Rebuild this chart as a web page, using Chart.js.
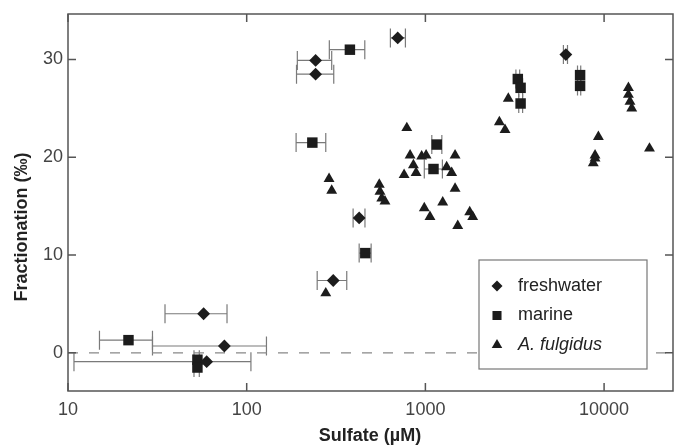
<!DOCTYPE html>
<html>
<head>
<meta charset="utf-8">
<script src="https://cdn.jsdelivr.net/npm/chart.js@4.4.0/dist/chart.umd.min.js"></script>
<style>
  html, body { margin: 0; padding: 0; background: #fff; }
  #wrap { width: 674px; height: 445px; }
</style>
</head>
<body>
<div id="wrap"><canvas id="chart" width="674" height="445"></canvas></div>
<script>
// Sulfate (µM) vs fractionation (‰)
const freshSulfate  = [243, 243, 700, 426, 305, 57.4, 75, 59.7, 6110];
const freshFrac     = [29.9, 28.5, 32.2, 13.8, 7.4, 4.0, 0.7, -0.9, 30.5];
const freshErrLow   = [192, 190, 637, 394, 248, 34.9, 29.7, 10.8, 5920];
const freshErrHigh  = [299, 307, 773, 459, 363, 77.6, 129, 105.6, 6240];

const marineSulfate = [378, 233, 461, 21.8, 53, 53, 3290, 3410, 3410, 7340, 7340, 1157, 1110];
const marineFrac    = [31.0, 21.5, 10.2, 1.3, -0.7, -1.5, 28.0, 27.1, 25.5, 28.4, 27.3, 21.3, 18.8];
const marineErrLow  = [290, 189, 426, 15.0, 50.7, 50.7, 3210, 3330, 3330, 7100, 7100, 1086, 986];
const marineErrHigh = [458, 277, 497, 29.7, 54.3, 54.3, 3370, 3500, 3500, 7400, 7400, 1236, 1245];

const fulgidusSulfate = [289, 299, 277, 787, 821, 953, 1009, 857, 760, 887, 1466, 1315, 1403, 1466,
  1250, 986, 1061, 1770, 1840, 1517, 552, 557, 570, 594, 2910, 2594, 2790, 9290, 8900, 8900, 8700,
  13680, 13680, 13960, 14280, 17950];
const fulgidusFrac = [17.8, 16.6, 6.1, 23.0, 20.2, 20.1, 20.2, 19.2, 18.2, 18.4, 20.2, 19.0, 18.4, 16.8,
  15.4, 14.8, 13.9, 14.4, 13.9, 13.0, 17.2, 16.5, 15.8, 15.5, 26.0, 23.6, 22.8, 22.1, 20.2, 19.9, 19.4,
  27.1, 26.4, 25.7, 25.0, 20.9];

const sulfateTicks = [10, 100, 1000, 10000];
const fracTicks = [0, 10, 20, 30];
const sulfateMin = 10, sulfateMax = 24300;
const fracMin = -3.9, fracMax = 34.65;

const FONT = '"Liberation Sans", Arial, Helvetica, sans-serif';
const INK = '#1c1c1c';

function toPoints(xs, ys, lo, hi) {
    return xs.map((x, i) => ({ x, y: ys[i], xMin: lo ? lo[i] : null, xMax: hi ? hi[i] : null }));
}

// horizontal error bars with caps
const errorBars = {
    id: 'errorBars',
    beforeDatasetsDraw(chart) {
        const { ctx, scales: { x, y } } = chart;
        ctx.save();
        ctx.strokeStyle = '#7a7a7a';
        ctx.lineWidth = 1.2;
        chart.data.datasets.forEach(ds => {
            ds.data.forEach(p => {
                if (p.xMin == null) return;
                const x0 = x.getPixelForValue(p.xMin);
                const x1 = x.getPixelForValue(p.xMax);
                const py = y.getPixelForValue(p.y);
                ctx.beginPath();
                ctx.moveTo(x0, py); ctx.lineTo(x1, py);
                ctx.moveTo(x0, py - 9.5); ctx.lineTo(x0, py + 9.5);
                ctx.moveTo(x1, py - 9.5); ctx.lineTo(x1, py + 9.5);
                ctx.stroke();
            });
        });
        ctx.restore();
    }
};

// legend box inside the plot
const boxLegend = {
    id: 'boxLegend',
    afterDatasetsDraw(chart) {
        const ctx = chart.ctx;
        const x0 = 479, y0 = 260, w = 168, h = 109;
        ctx.save();
        ctx.fillStyle = '#fff';
        ctx.fillRect(x0, y0, w, h);
        ctx.strokeStyle = '#777';
        ctx.lineWidth = 1.2;
        ctx.strokeRect(x0, y0, w, h);
        chart.data.datasets.filter(d => d.label).forEach((d, i) => {
            const cy = y0 + 26 + i * 29.5;
            ctx.fillStyle = INK;
            Chart.helpers.drawPoint(ctx, { pointStyle: d.pointStyle, radius: d.legendRadius, rotation: 0, borderWidth: 0 }, x0 + 18, cy);
            ctx.font = (d.italic ? 'italic ' : '') + '18px ' + FONT;
            ctx.textBaseline = 'middle';
            ctx.textAlign = 'left';
            ctx.fillStyle = '#222';
            ctx.fillText(d.label, x0 + 39, cy);
        });
        ctx.restore();
    }
};

// box round the plot, inward ticks and axis titles
const frame = {
    id: 'frame',
    afterDraw(chart) {
        const { ctx, chartArea: a, scales: { x, y } } = chart;
        ctx.save();
        ctx.strokeStyle = '#555';
        ctx.lineWidth = 1.5;
        ctx.strokeRect(a.left, a.top, a.right - a.left, a.bottom - a.top);
        ctx.beginPath();
        sulfateTicks.forEach(v => {
            const px = x.getPixelForValue(v);
            ctx.moveTo(px, a.bottom); ctx.lineTo(px, a.bottom - 8);
            ctx.moveTo(px, a.top); ctx.lineTo(px, a.top + 8);
        });
        fracTicks.forEach(v => {
            const py = y.getPixelForValue(v);
            ctx.moveTo(a.left, py); ctx.lineTo(a.left + 8, py);
            ctx.moveTo(a.right, py); ctx.lineTo(a.right - 8, py);
        });
        ctx.stroke();

        ctx.fillStyle = '#222';
        ctx.font = 'bold 18px ' + FONT;
        ctx.textAlign = 'center';
        ctx.textBaseline = 'middle';
        ctx.fillText('Sulfate (\u00b5M)', 370, 436);
        ctx.translate(22, 227);
        ctx.rotate(-Math.PI / 2);
        ctx.fillText('Fractionation (\u2030)', 0, 0);
        ctx.restore();
    }
};

new Chart(document.getElementById('chart'), {
    type: 'scatter',
    data: {
        datasets: [
            {
                label: 'freshwater',
                data: toPoints(freshSulfate, freshFrac, freshErrLow, freshErrHigh),
                pointStyle: 'rectRot', pointRadius: 6.4, legendRadius: 5.5,
                backgroundColor: INK, borderWidth: 0
            },
            {
                label: 'marine',
                data: toPoints(marineSulfate, marineFrac, marineErrLow, marineErrHigh),
                pointStyle: 'rect', pointRadius: 7.4, legendRadius: 6.4,
                backgroundColor: INK, borderWidth: 0
            },
            {
                label: 'A. fulgidus', italic: true,
                data: toPoints(fulgidusSulfate, fulgidusFrac),
                pointStyle: 'triangle', pointRadius: 6.3, legendRadius: 6.1,
                backgroundColor: INK, borderWidth: 0
            },
            {
                data: [{ x: sulfateMin, y: 0 }, { x: sulfateMax, y: 0 }],
                showLine: true, pointRadius: 0, order: 10,
                borderColor: '#888', borderWidth: 1.3, borderDash: [10, 11]
            }
        ]
    },
    options: {
        responsive: false,
        animation: false,
        layout: { autoPadding: false, padding: { top: 14, right: 1, left: 0, bottom: 0 } },
        plugins: { legend: { display: false }, tooltip: { enabled: false } },
        scales: {
            x: {
                type: 'logarithmic',
                min: sulfateMin, max: sulfateMax,
                afterBuildTicks: s => { s.ticks = sulfateTicks.map(v => ({ value: v })); },
                afterFit: s => { s.height = 54; s.paddingLeft = 0; s.paddingRight = 0; },
                grid: { display: false, drawTicks: false },
                border: { display: false },
                ticks: { color: '#444', padding: 8, font: { family: FONT, size: 18 }, callback: v => String(v), maxRotation: 0 }
            },
            y: {
                min: fracMin, max: fracMax,
                afterBuildTicks: s => { s.ticks = fracTicks.map(v => ({ value: v })); },
                afterFit: s => { s.width = 68; s.paddingTop = 0; s.paddingBottom = 0; },
                grid: { display: false, drawTicks: false },
                border: { display: false },
                ticks: { color: '#444', padding: 5, font: { family: FONT, size: 18 }, callback: v => String(v) }
            }
        }
    },
    plugins: [errorBars, boxLegend, frame]
});
</script>
</body>
</html>
